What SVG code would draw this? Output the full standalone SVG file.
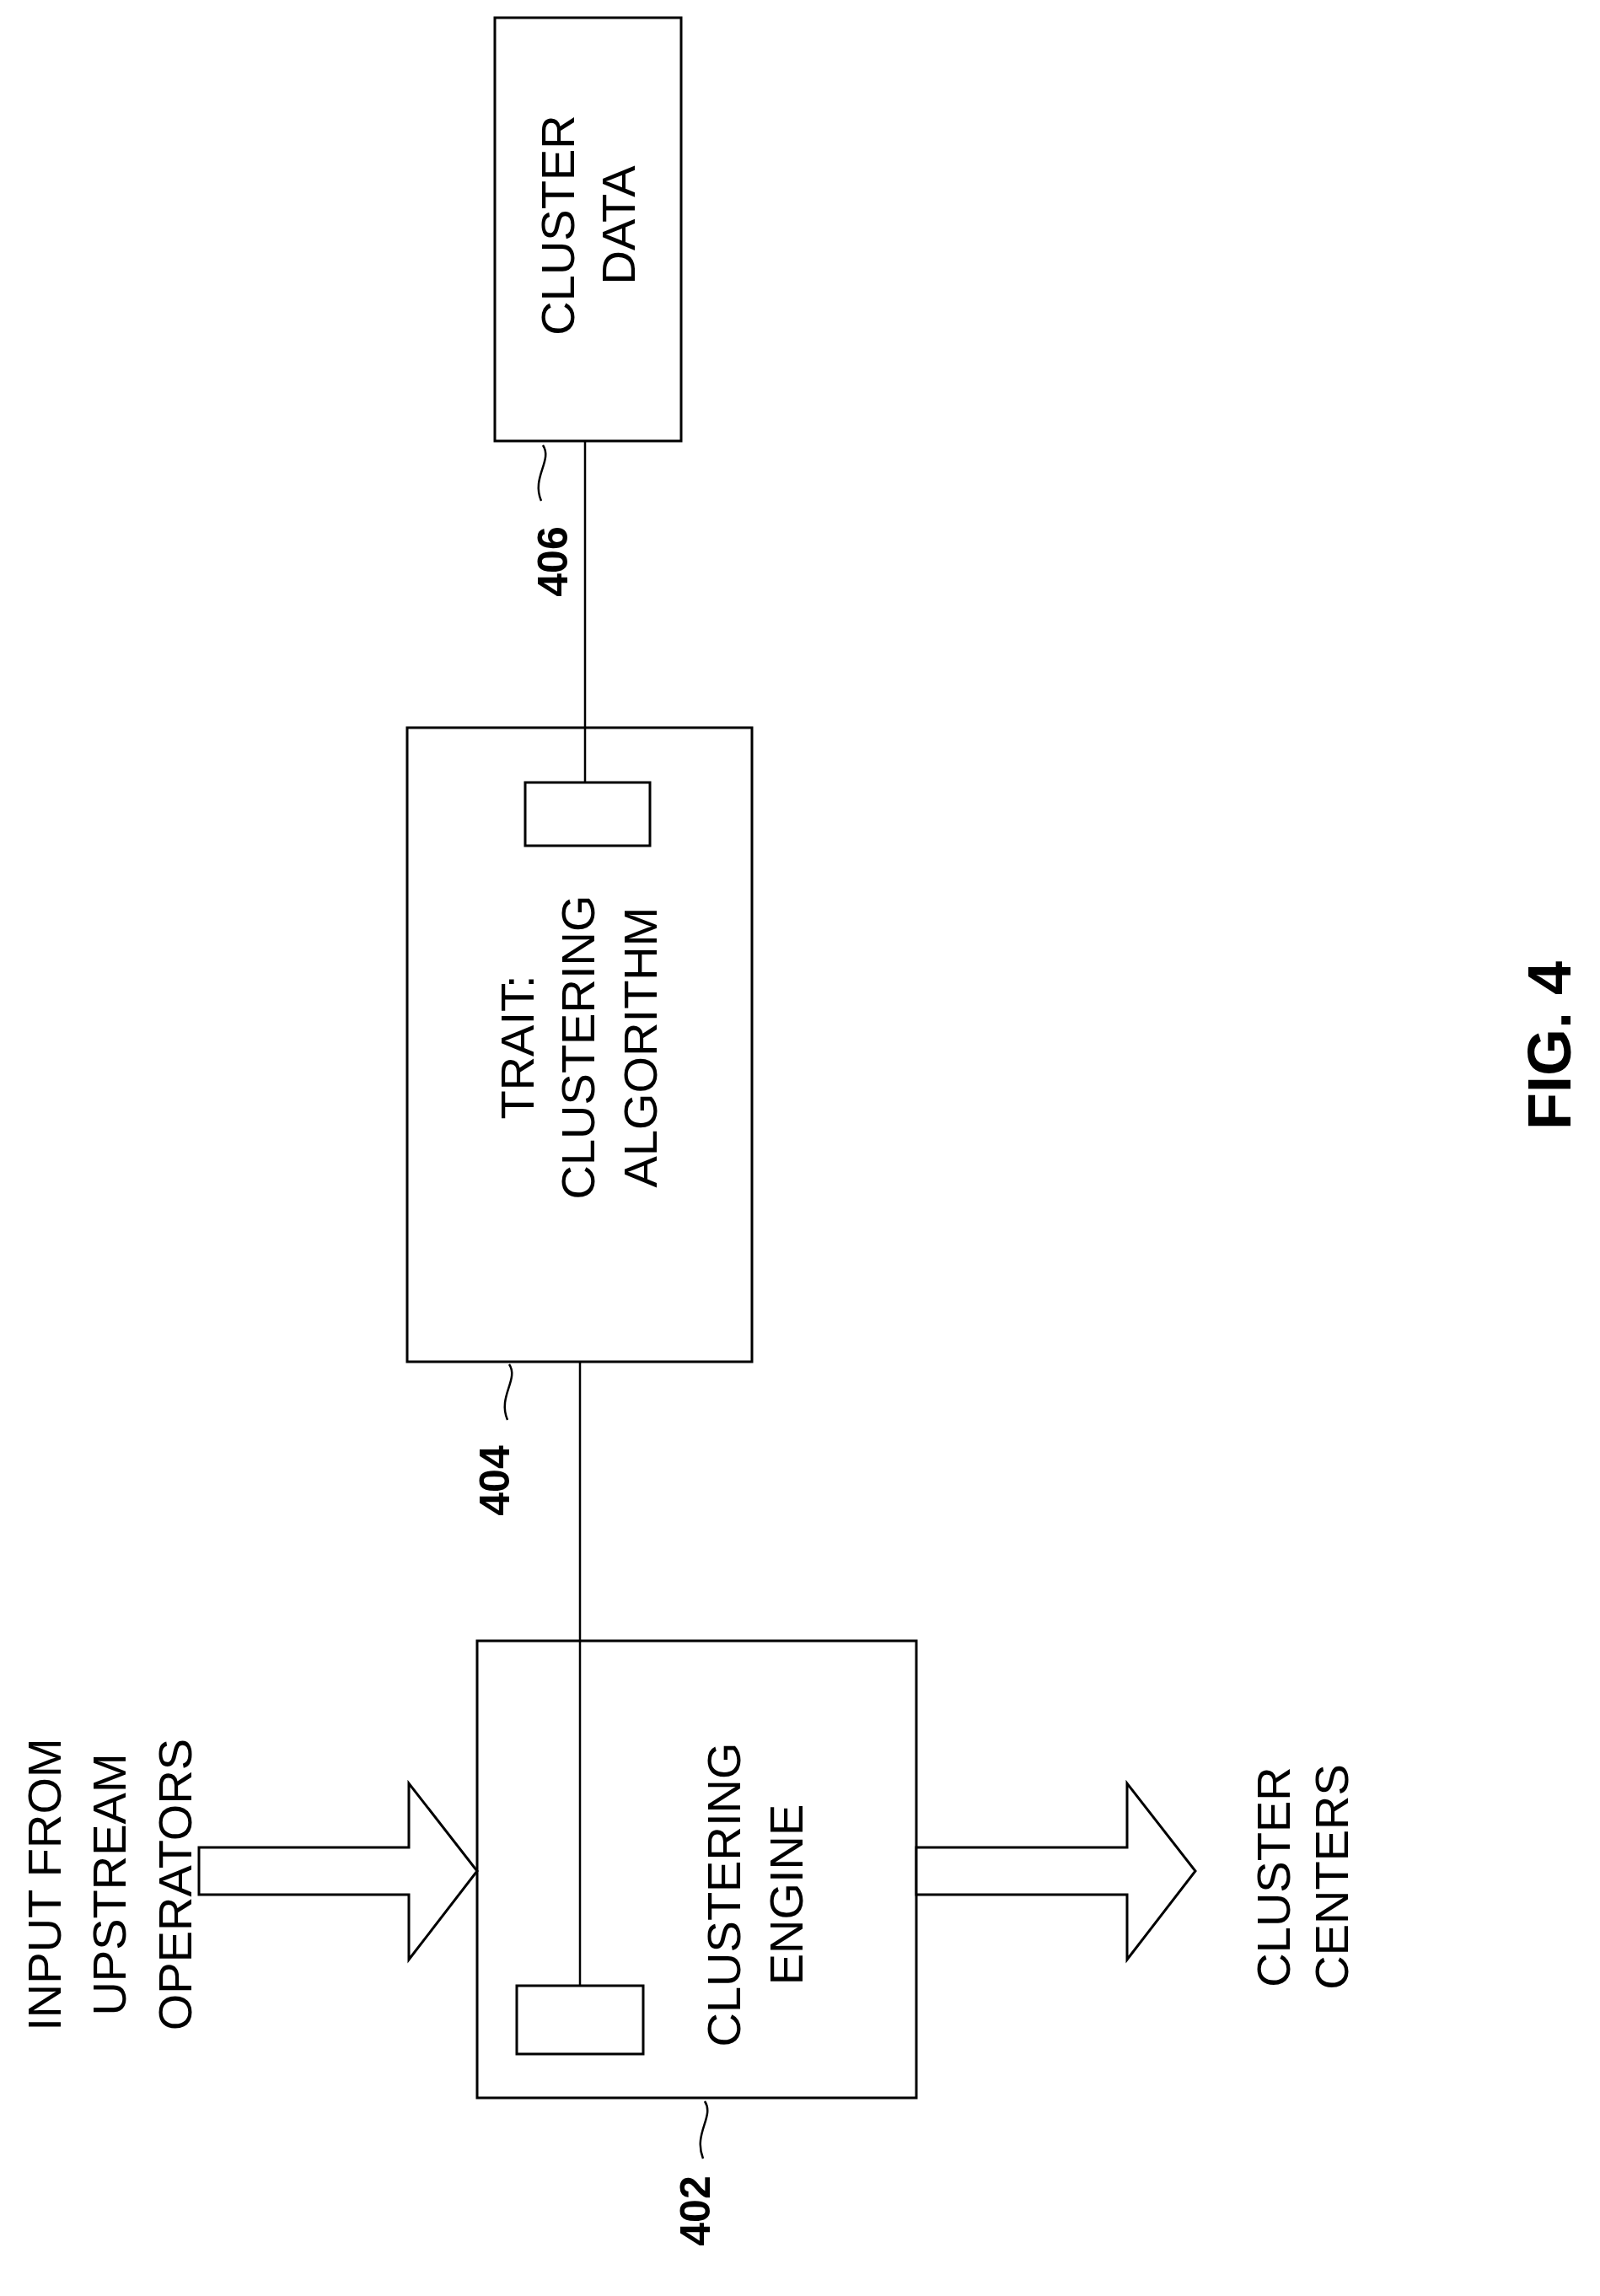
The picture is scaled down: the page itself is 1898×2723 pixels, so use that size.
<svg xmlns="http://www.w3.org/2000/svg" width="1898" height="2723" viewBox="0 0 1898 2723">
<style>
.b{fill:#fff;stroke:#000;stroke-width:3}
.l{fill:none;stroke:#000;stroke-width:2.5}
.t{font-family:"Liberation Sans",Arial,sans-serif;font-size:56px;text-anchor:middle;dominant-baseline:central}
.n{font-family:"Liberation Sans",Arial,sans-serif;font-size:50px;font-weight:bold;text-anchor:middle;dominant-baseline:central}
</style>
<rect width="1898" height="2723" fill="#fff"/>
<g id="cluster-data">
<rect class="b" x="587" y="21" width="221" height="502"/>
<text class="t" transform="translate(661,267) rotate(-90)">CLUSTER</text>
<text class="t" transform="translate(733,267) rotate(-90)">DATA</text>
</g>
<g id="trait">
<rect class="b" x="483" y="863" width="409" height="752"/>
<rect class="b" x="623" y="928" width="148" height="75"/>
<text class="t" transform="translate(613,1242) rotate(-90)">TRAIT:</text>
<text class="t" transform="translate(685,1242) rotate(-90)">CLUSTERING</text>
<text class="t" transform="translate(759,1242) rotate(-90)">ALGORITHM</text>
</g>
<g id="engine">
<rect class="b" x="566" y="1946" width="521" height="542"/>
<rect class="b" x="613" y="2355" width="150" height="81"/>
<text class="t" transform="translate(858,2247) rotate(-90)">CLUSTERING</text>
<text class="t" transform="translate(932,2247) rotate(-90)">ENGINE</text>
</g>
<g id="input">
<path class="b" d="M236 2191 H485 V2115 L566 2219 L485 2324 V2247 H236 Z"/>
<text class="t" transform="translate(52,2235) rotate(-90)">INPUT FROM</text>
<text class="t" transform="translate(129,2235) rotate(-90)">UPSTREAM</text>
<text class="t" transform="translate(207,2235) rotate(-90)">OPERATORS</text>
</g>
<g id="output">
<path class="b" d="M1087 2191 H1337 V2115 L1418 2219 L1337 2324 V2247 H1087 Z"/>
<text class="t" transform="translate(1510,2226) rotate(-90)">CLUSTER</text>
<text class="t" transform="translate(1579,2226) rotate(-90)">CENTERS</text>
</g>
<g id="connectors">
<line class="l" x1="694" y1="523" x2="694" y2="928"/>
<line class="l" x1="688" y1="1615" x2="688" y2="2355"/>
</g>
<g id="labels">
<path class="l" d="M836 2492 C848 2510 822 2530 834 2560"/>
<text class="n" transform="translate(825,2622) rotate(-90)">402</text>
<path class="l" d="M604 1618 C616 1636 590 1656 602 1684"/>
<text class="n" transform="translate(587,1756) rotate(-90)">404</text>
<path class="l" d="M644 528 C656 546 630 566 642 594"/>
<text class="n" transform="translate(656,666) rotate(-90)">406</text>
<text class="n" style="font-size:72px" transform="translate(1838,1240) rotate(-90)">FIG. 4</text>
</g>
</svg>
